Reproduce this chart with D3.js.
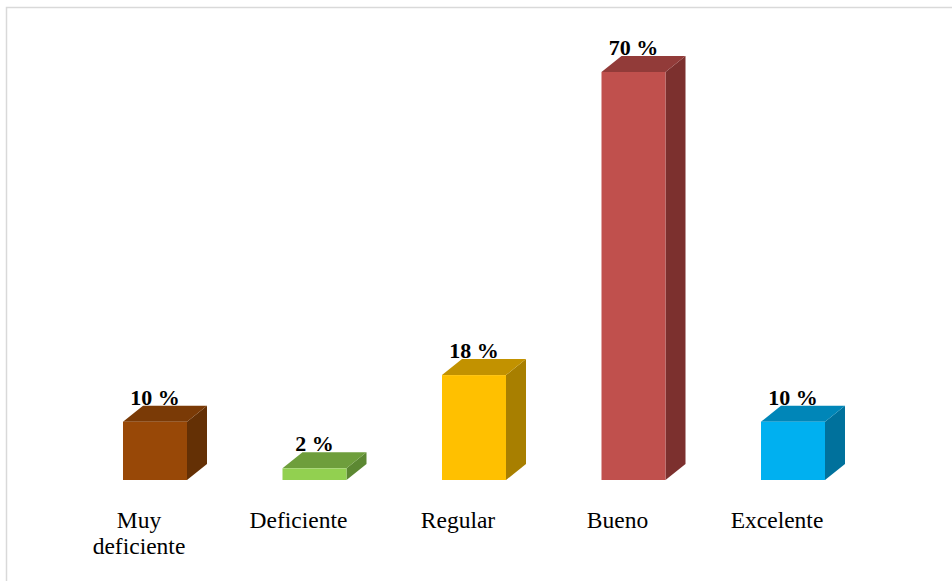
<!DOCTYPE html>
<html>
<head>
<meta charset="utf-8">
<script src="https://cdn.jsdelivr.net/npm/d3@7"></script>
<style>
  html, body { margin: 0; padding: 0; background: #fff; }
  svg { display: block; }
  text { font-family: "Liberation Serif", "DejaVu Serif", serif; }
</style>
</head>
<body>
<svg id="chart" width="952" height="581"></svg>
<script>
const categories = ["Muy deficiente", "Deficiente", "Regular", "Bueno", "Excelente"];
const categoryLines = [["Muy", "deficiente"], ["Deficiente"], ["Regular"], ["Bueno"], ["Excelente"]];
const values = [10, 2, 18, 70, 10];
const valueLabels = ["10 %", "2 %", "18 %", "70 %", "10 %"];
const frontColors = ["#984807", "#92D050", "#FFC000", "#C0504D", "#00B0F0"];
const topColors   = ["#7A3A06", "#6E9E3C", "#C29200", "#923B39", "#0086B8"];
const sideColors  = ["#643005", "#5C8832", "#A87F00", "#7C302E", "#00719C"];

const svg = d3.select("#chart");

// chart area border (light gray, continues past canvas edge)
svg.append("rect")
  .attr("x", 6.5).attr("y", 7.5)
  .attr("width", 1000).attr("height", 700)
  .attr("fill", "none").attr("stroke", "#D9D9D9").attr("stroke-width", 1.5);

const x = d3.scaleBand()
  .domain(categories)
  .range([75.25, 872.75])
  .paddingInner(0.5987)
  .paddingOuter(0.5987 / 2);

const y = d3.scaleLinear().domain([0, 70]).range([480, 72]);

const dx = 20, dy = 16;
const data = categories.map((c, i) => ({ c, i, v: values[i] }));

const g = svg.append("g");
const bars = g.selectAll("g.bar").data(data).join("g").attr("class", "bar");

// side face
bars.append("path")
  .attr("fill", d => sideColors[d.i])
  .attr("d", d => {
    const x0 = x(d.c) + x.bandwidth(), t = y(d.v), b = y(0);
    return `M${x0},${t}L${x0 + dx},${t - dy}L${x0 + dx},${b - dy}L${x0},${b}Z`;
  });
// top face
bars.append("path")
  .attr("fill", d => topColors[d.i])
  .attr("d", d => {
    const x0 = x(d.c), x1 = x0 + x.bandwidth(), t = y(d.v);
    return `M${x0},${t}L${x0 + dx},${t - dy}L${x1 + dx},${t - dy}L${x1},${t}Z`;
  });
// front face
bars.append("rect")
  .attr("fill", d => frontColors[d.i])
  .attr("x", d => x(d.c))
  .attr("y", d => y(d.v))
  .attr("width", x.bandwidth())
  .attr("height", d => y(0) - y(d.v));

// value labels
g.selectAll("text.val").data(data).join("text")
  .attr("class", "val")
  .attr("x", d => x(d.c) + x.bandwidth() / 2)
  .attr("y", d => y(d.v) - dy - 1)
  .attr("text-anchor", "middle")
  .style("font-weight", "bold")
  .style("font-size", "22px")
  .attr("fill", "#000")
  .text(d => valueLabels[d.i]);

// category labels
const cat = g.selectAll("text.cat").data(data).join("text")
  .attr("class", "cat")
  .attr("text-anchor", "middle")
  .style("font-size", "23.5px")
  .attr("fill", "#000");
cat.each(function(d) {
  const t = d3.select(this);
  const cx = x(d.c) + x.bandwidth() / 2 - 16;
  categoryLines[d.i].forEach((line, k) => {
    t.append("tspan")
      .attr("x", cx)
      .attr("y", 528 + k * 26)
      .text(line);
  });
});
</script>
</body>
</html>
